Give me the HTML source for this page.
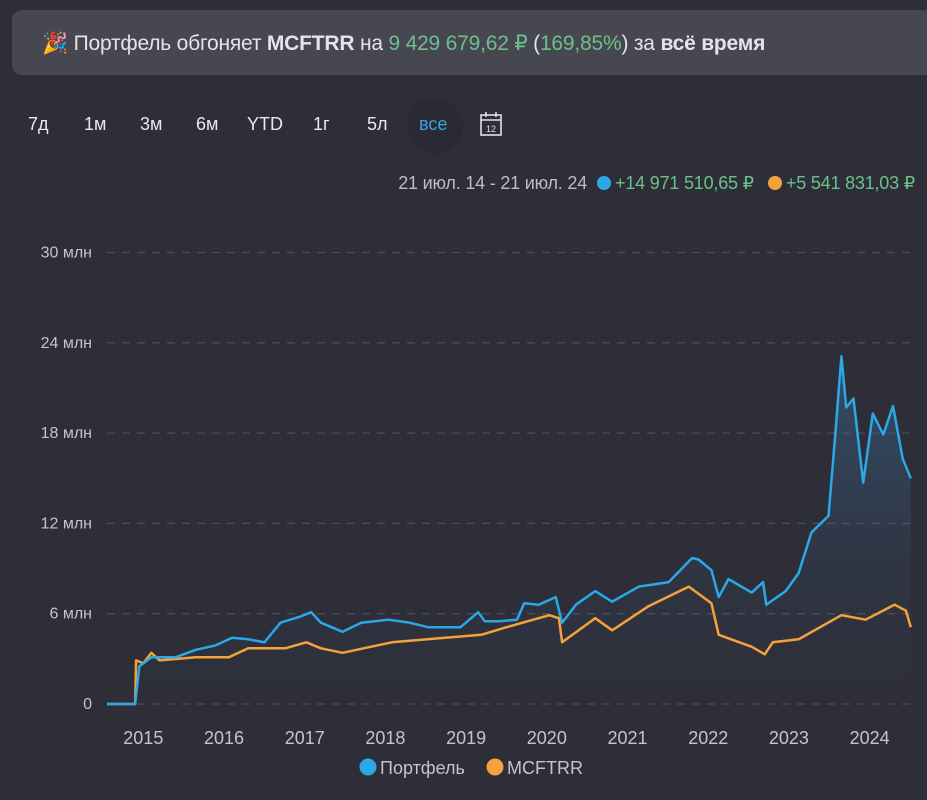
<!DOCTYPE html>
<html><head><meta charset="utf-8"><style>
body{margin:0;width:927px;height:800px;background:#2e2e38;font-family:"Liberation Sans","DejaVu Sans",sans-serif;overflow:hidden;position:relative;color:#d8d8de}
.banner{position:absolute;left:12px;top:10px;width:940px;height:65px;background:#474752;border-radius:10px}
.btxt{position:absolute;left:42px;top:31px;font-size:21px;color:#e4e4ea;white-space:nowrap;letter-spacing:-0.2px}
.g{color:#6cc08a}.b{font-weight:bold}
.btn{position:absolute;top:114px;font-size:18px;color:#e8e8ee}
.hdr{position:absolute;top:173px;right:12px;font-size:18px;color:#bdbdc6;white-space:nowrap;letter-spacing:-0.2px}
.dot{display:inline-block;width:14px;height:14px;border-radius:50%;vertical-align:-1px;margin:0 4px 0 10px}
</style></head><body>
<div class="banner"></div>
<div class="btxt">🎉 Портфель обгоняет <span class="b">MCFTRR</span> на <span class="g">9 429 679,62 ₽</span> (<span class="g">169,85%</span>) за <span class="b">всё время</span></div>
<span class="btn" style="left:28px">7д</span>
<span class="btn" style="left:84px">1м</span>
<span class="btn" style="left:140px">3м</span>
<span class="btn" style="left:196px">6м</span>
<span class="btn" style="left:247px">YTD</span>
<span class="btn" style="left:313px">1г</span>
<span class="btn" style="left:367px">5л</span>
<div style="position:absolute;left:407px;top:98px;width:56px;height:56px;border-radius:50%;background:#2a2a33"></div>
<span class="btn" style="left:419px;color:#3aa0e8">все</span>
<svg style="position:absolute;left:479px;top:111px" width="24" height="26"><rect x="2" y="4" width="20" height="20" fill="none" stroke="#e0e0e6" stroke-width="1.6"/><line x1="2" y1="9" x2="22" y2="9" stroke="#e0e0e6" stroke-width="1.6"/><line x1="7" y1="1" x2="7" y2="6" stroke="#e0e0e6" stroke-width="1.6"/><line x1="17" y1="1" x2="17" y2="6" stroke="#e0e0e6" stroke-width="1.6"/><text x="12" y="21" font-size="9" fill="#e0e0e6" text-anchor="middle" font-family="Liberation Sans">12</text></svg>
<div class="hdr">21 июл. 14 - 21 июл. 24<span class="dot" style="background:#2aa8e8"></span><span class="g">+14 971 510,65 ₽</span><span class="dot" style="background:#f5a23a;margin-left:14px"></span><span class="g">+5 541 831,03 ₽</span></div>
<svg id="chart" style="position:absolute;left:0;top:0" width="927" height="800">
<defs><linearGradient id="fillg" x1="0" y1="0" x2="0" y2="1"><stop offset="0" stop-color="#3a6a95" stop-opacity="0.5"/><stop offset="0.6" stop-color="#3a6a95" stop-opacity="0.12"/><stop offset="1" stop-color="#3a6a95" stop-opacity="0"/></linearGradient></defs>
</svg>
<script>
const yTicks=[0,6,12,18,24,30];
const yTickLabels=["0","6 млн","12 млн","18 млн","24 млн","30 млн"];
const xTicks=[2015,2016,2017,2018,2019,2020,2021,2022,2023,2024];
const portT=[2014.55,2014.9,2014.95,2015.1,2015.4,2015.65,2015.9,2016.1,2016.3,2016.5,2016.7,2016.94,2017.08,2017.2,2017.47,2017.7,2018.04,2018.3,2018.53,2018.93,2019.15,2019.23,2019.41,2019.63,2019.72,2019.9,2020.11,2020.19,2020.36,2020.6,2020.81,2021.14,2021.51,2021.8,2021.88,2022.04,2022.13,2022.25,2022.54,2022.68,2022.72,2022.96,2023.12,2023.28,2023.49,2023.57,2023.65,2023.71,2023.8,2023.92,2024.04,2024.17,2024.29,2024.41,2024.51];
const portV=[0,0,2.5,3.1,3.1,3.6,3.9,4.4,4.3,4.1,5.4,5.8,6.1,5.4,4.8,5.4,5.6,5.4,5.1,5.1,6.1,5.5,5.5,5.6,6.7,6.6,7.1,5.4,6.6,7.5,6.8,7.8,8.1,9.7,9.6,8.9,7.1,8.3,7.4,8.1,6.6,7.5,8.7,11.4,12.5,17.6,23.1,19.7,20.3,14.7,19.3,17.9,19.8,16.3,15.0];
const mcfT=[2014.55,2014.9,2014.91,2015.0,2015.1,2015.2,2015.65,2016.06,2016.3,2016.76,2017.02,2017.2,2017.47,2018.08,2018.74,2019.19,2019.5,2020.03,2020.15,2020.19,2020.6,2020.81,2021.26,2021.76,2022.04,2022.13,2022.54,2022.7,2022.8,2023.12,2023.65,2023.95,2024.31,2024.45,2024.51];
const mcfV=[0,0,2.9,2.7,3.4,2.9,3.1,3.1,3.7,3.7,4.1,3.7,3.4,4.1,4.4,4.6,5.1,5.9,5.7,4.1,5.7,4.9,6.5,7.8,6.7,4.6,3.8,3.3,4.1,4.3,5.9,5.6,6.6,6.2,5.1];
const svg=document.getElementById('chart');const NS='http://www.w3.org/2000/svg';
const X=t=>107+(t-2014.55)*80.7;const Y=v=>704-v*15.05;
function mk(tag,attrs){const e=document.createElementNS(NS,tag);for(const k in attrs)e.setAttribute(k,attrs[k]);svg.appendChild(e);return e;}
yTicks.forEach((v,i)=>{
 const l=mk('line',{x1:107,x2:912,y1:Y(v),y2:Y(v),stroke:'#4c4c58','stroke-width':1.3,'stroke-dasharray':'8 7'});
 
 
 const t=mk('text',{x:92,y:Y(v)+5,'text-anchor':'end','font-size':16,fill:'#c4c4cc'});t.textContent=yTickLabels[i];
 
 
});
xTicks.forEach(y=>{const t=mk('text',{x:X(y+0.0),y:744,'text-anchor':'middle','font-size':18,fill:'#c4c4cc'});t.textContent=y;
 
 });
const pp=portT.map((t,i)=>X(t).toFixed(1)+','+Y(portV[i]).toFixed(1));
const area=mk('path',{d:'M'+pp.join('L')+'L'+X(portT[portT.length-1])+','+Y(0)+'L'+X(portT[0])+','+Y(0)+'Z',fill:'url(#fillg)'});


const ml=mk('polyline',{points:mcfT.map((t,i)=>X(t).toFixed(1)+','+Y(mcfV[i]).toFixed(1)).join(' '),fill:'none',stroke:'#f5a23a','stroke-width':2.5,'stroke-linejoin':'round'});


const pl=mk('polyline',{points:pp.join(' '),fill:'none',stroke:'#2aa8e8','stroke-width':2.5,'stroke-linejoin':'round'});


[[368,'#2aa8e8','Портфель','legend-portfolio'],[495,'#f5a23a','MCFTRR','legend-mcftrr']].forEach(a=>{
 const g=mk('g',{});
 
 const c=document.createElementNS(NS,'circle');c.setAttribute('cx',a[0]);c.setAttribute('cy',767);c.setAttribute('r',8.5);c.setAttribute('fill',a[1]);g.appendChild(c);
 const t=document.createElementNS(NS,'text');t.setAttribute('x',a[0]+12);t.setAttribute('y',774);t.setAttribute('font-size',18);t.setAttribute('fill','#c4c4cc');t.textContent=a[2];g.appendChild(t);
});
</script>
</body></html>
